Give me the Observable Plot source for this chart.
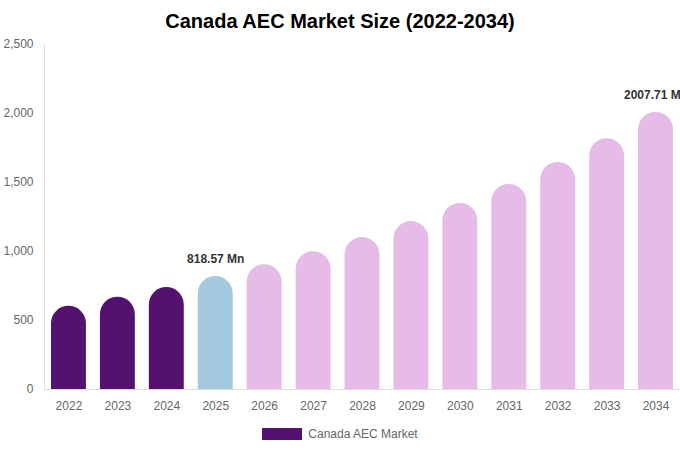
<!DOCTYPE html>
<html><head><meta charset="utf-8">
<script src="https://cdn.jsdelivr.net/npm/d3@7"></script>
<script src="https://cdn.jsdelivr.net/npm/@observablehq/plot@0.6"></script>
<style>
body{margin:0;background:#fff;font-family:"Liberation Sans",Arial,sans-serif;width:680px;overflow:hidden}
#title{height:30px;padding-top:6px;line-height:30px;text-align:center;font-size:20px;font-weight:bold;color:#000}
#legend{height:30px;display:flex;justify-content:center;align-items:center;gap:6px;font-size:12px;color:#666}
.sw{display:inline-block;width:40px;height:12px;background:#541170}
</style></head><body>
<div id="title">Canada AEC Market Size (2022-2034)</div>
<div id="chart"></div>
<div id="legend"><span class="sw"></span><span>Canada AEC Market</span></div>
<script>
const years = ["2022","2023","2024","2025","2026","2027","2028","2029","2030","2031","2032","2033","2034"];
const values = [603, 669, 739, 818.57, 904, 998, 1101, 1217, 1348, 1486, 1645, 1817, 2007.71];
const phases = ["historic","historic","historic","base","forecast","forecast","forecast","forecast","forecast","forecast","forecast","forecast","forecast"];
const phaseNames = ["historic","base","forecast"];
const phaseColors = ["#541170","#a4cadf","#e6bbe8"];
const yTicks = [0, 500, 1000, 1500, 2000, 2500];
const labelYears = ["2025","2034"];
const labelTexts = ["818.57 Mn","2007.71 Mn"];

const data = years.map((y, i) => ({year: y, value: values[i], phase: phases[i]}));
const labelData = labelYears.map((y, i) => ({year: y, value: values[years.indexOf(y)], text: labelTexts[i]}));

const chart = Plot.plot({
  width: 680,
  height: 383,
  marginTop: 8,
  marginLeft: 44,
  marginRight: 0,
  marginBottom: 30,
  style: {fontSize: "12px", fontFamily: "'Liberation Sans', Arial, sans-serif", color: "#666", background: "#fff"},
  x: {domain: years, padding: 0, round: false, tickSize: 0, tickPadding: 12, label: null},
  y: {domain: [0, 2500], ticks: yTicks, tickFormat: d3.format(","), tickSize: 0, tickPadding: 11, label: null},
  color: {domain: phaseNames, range: phaseColors},
  marks: [
    Plot.barY(data, {x: "year", y: "value", fill: "phase", ry1: 17.5, insetLeft: 7, insetRight: 7}),
    Plot.ruleY([0], {stroke: "#ddd"}),
    Plot.frame({anchor: "left", stroke: "#ddd"}),
    Plot.text(labelData, {x: "year", y: "value", text: "text", dy: -17, fill: "#333", fontWeight: "bold", fontSize: 12})
  ]
});
document.getElementById("chart").appendChild(chart);
</script>
</body></html>
